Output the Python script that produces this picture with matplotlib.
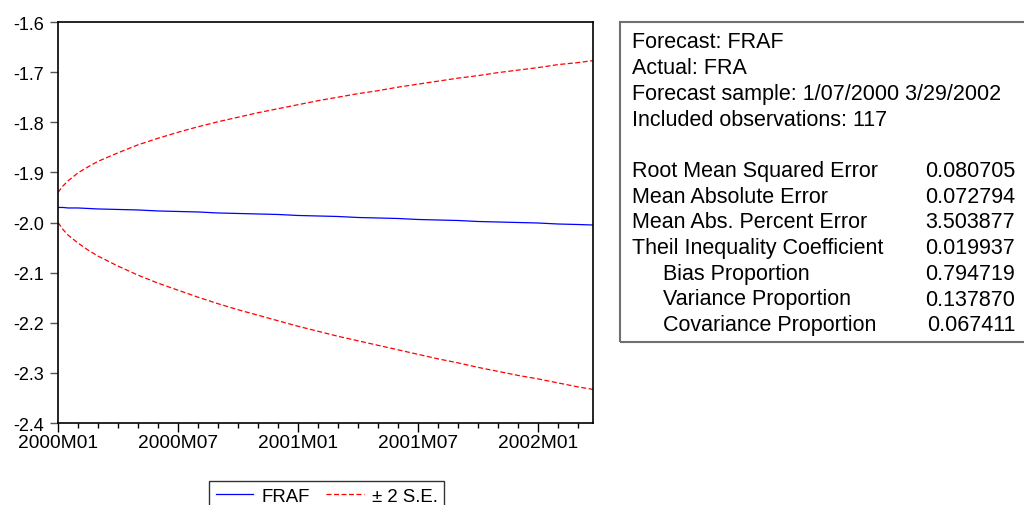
import matplotlib
matplotlib.use("Agg")
import matplotlib.pyplot as plt
from matplotlib.patches import Rectangle
from matplotlib.ticker import FormatStrFormatter, FixedLocator

# months since 2000M01 (weekly sample 1/07/2000 - 3/29/2002)
months = [0, 0.25, 0.5, 1, 1.5, 2, 3, 4, 5, 6, 7, 8, 9, 10, 11, 12, 13,
          14, 15, 16, 17, 18, 19, 20, 21, 22, 23, 24, 25, 26, 26.75]
fraf = [-1.970, -1.970, -1.971, -1.971, -1.972, -1.973, -1.974, -1.975,
        -1.977, -1.978, -1.979, -1.981, -1.982, -1.983, -1.984, -1.986,
        -1.987, -1.988, -1.990, -1.991, -1.992, -1.994, -1.995, -1.996,
        -1.998, -1.999, -2.000, -2.001, -2.003, -2.004, -2.005]
upper = [-1.940, -1.927, -1.917, -1.901, -1.889, -1.878, -1.861, -1.845,
         -1.832, -1.820, -1.809, -1.799, -1.790, -1.781, -1.773, -1.765,
         -1.757, -1.750, -1.743, -1.737, -1.730, -1.724, -1.718, -1.712,
         -1.707, -1.701, -1.696, -1.691, -1.685, -1.681, -1.677]
lower = [-2.000, -2.014, -2.025, -2.041, -2.055, -2.067, -2.087, -2.105,
         -2.121, -2.135, -2.149, -2.162, -2.174, -2.185, -2.196, -2.207,
         -2.217, -2.227, -2.236, -2.245, -2.254, -2.263, -2.272, -2.280,
         -2.289, -2.297, -2.305, -2.312, -2.320, -2.328, -2.333]

tick_pos = [0, 6, 12, 18, 24]
tick_labels = ["2000M01", "2000M07", "2001M01", "2001M07", "2002M01"]
minor_pos = [m for m in range(1, 27) if m not in tick_pos]

stat_names = ["Root Mean Squared Error", "Mean Absolute Error",
              "Mean Abs. Percent Error", "Theil Inequality Coefficient",
              "Bias Proportion", "Variance Proportion", "Covariance Proportion"]
stat_values = ["0.080705", "0.072794", "3.503877", "0.019937",
               "0.794719", "0.137870", "0.067411"]
header_lines = ["Forecast: FRAF", "Actual: FRA",
                "Forecast sample: 1/07/2000 3/29/2002",
                "Included observations: 117"]

plt.rcParams["font.family"] = ["Liberation Sans", "DejaVu Sans"]
plt.rcParams["axes.unicode_minus"] = False
plt.rcParams["lines.scale_dashes"] = False

W, H = 1024, 506
fig = plt.figure(figsize=(W / 100, H / 100), dpi=100)
ax = fig.add_axes([58 / W, 1 - 424 / H, 535 / W, 401 / H])

ax.plot(months, fraf, color="#0000FF", lw=0.9, label="FRAF")
ax.plot(months, upper, color="#FF0000", lw=0.9, dashes=(3.6, 1.8), label="\u00b1 2 S.E.")
ax.plot(months, lower, color="#FF0000", lw=0.9, dashes=(3.6, 1.8))

ax.set_xlim(0, 26.75)
ax.set_ylim(-2.4, -1.6)
ax.set_yticks([-2.4 + 0.1 * i for i in range(9)])
ax.yaxis.set_major_formatter(FormatStrFormatter('%.1f'))
ax.set_xticks(tick_pos)
ax.set_xticklabels(tick_labels)
ax.xaxis.set_minor_locator(FixedLocator(minor_pos))

for s in ax.spines.values():
    s.set_linewidth(1.2)
    s.set_color("black")
ax.tick_params(axis="y", direction="out", length=6, width=1, color="#555555",
               labelsize=13, pad=4)
ax.tick_params(axis="x", which="major", direction="out", length=6.5, width=1,
               labelsize=13.8, pad=1.5)
ax.tick_params(axis="x", which="minor", direction="out", length=3.6, width=1)

# legend below the plot
leg = fig.legend(loc="upper left", bbox_to_anchor=(209 / W, 1 - 482 / H), ncol=2,
                 fontsize=13.4, frameon=True, fancybox=False, edgecolor="black",
                 handlelength=2.0, handletextpad=0.45, columnspacing=0.9,
                 borderpad=0.35, borderaxespad=0)
leg.get_frame().set_linewidth(1.0)

# statistics box
fig.patches.append(Rectangle((620 / W, 1 - 343 / H), 420 / W, 320 / H,
                             transform=fig.transFigure, fill=False,
                             edgecolor="#707070", lw=1.5))
lines = header_lines + [""] + stat_names
values = [""] * 5 + stat_values
for i, (txt, val) in enumerate(zip(lines, values)):
    y = 1 - (43 + i * 25.7) / H
    indent = 663 if txt in stat_names[4:] else 632
    fig.text(indent / W, y, txt, fontsize=15.5, va="center", ha="left")
    if val:
        fig.text(1015 / W, y, val, fontsize=15.5, va="center", ha="right")

fig.savefig("out.png", dpi=100)
